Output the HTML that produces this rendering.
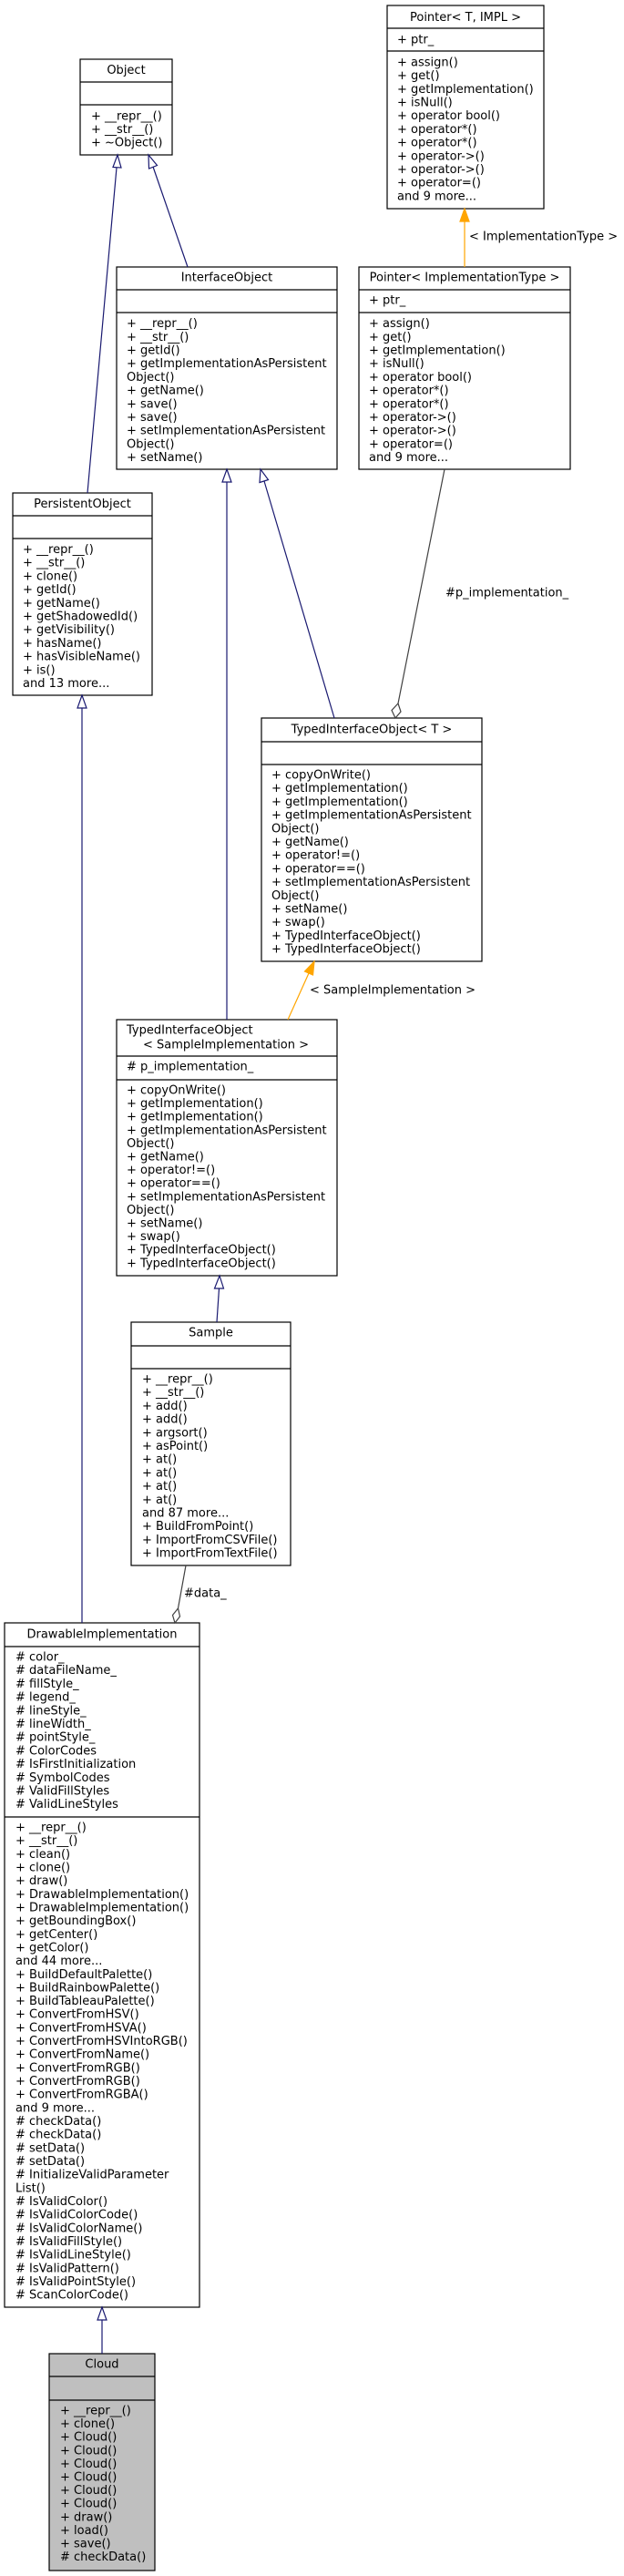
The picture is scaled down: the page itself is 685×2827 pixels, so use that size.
<!DOCTYPE html>
<html><head><meta charset="utf-8"><style>
html,body{margin:0;padding:0;background:#fff;}
svg{display:block;}
text{font-family:"DejaVu Sans","Liberation Sans",sans-serif;font-size:13px;fill:#000;}
</style></head><body>
<svg width="685" height="2827" viewBox="0 0 685 2827" xmlns="http://www.w3.org/2000/svg">
<g fill="#fff" stroke="#000" stroke-width="1.2">
<!-- Pointer<T,IMPL> -->
<rect x="425" y="6" width="172" height="223"/><line x1="425" y1="31" x2="597" y2="31"/><line x1="425" y1="56" x2="597" y2="56"/>
<!-- Object -->
<rect x="88" y="65" width="101" height="105"/><line x1="88" y1="90" x2="189" y2="90"/><line x1="88" y1="115" x2="189" y2="115"/>
<!-- InterfaceObject -->
<rect x="128" y="293" width="242" height="222"/><line x1="128" y1="318" x2="370" y2="318"/><line x1="128" y1="343" x2="370" y2="343"/>
<!-- Pointer<ImplementationType> -->
<rect x="394" y="293" width="232" height="222"/><line x1="394" y1="318" x2="626" y2="318"/><line x1="394" y1="343" x2="626" y2="343"/>
<!-- PersistentObject -->
<rect x="14" y="541" width="153" height="222"/><line x1="14" y1="566" x2="167" y2="566"/><line x1="14" y1="591" x2="167" y2="591"/>
<!-- TIO<T> -->
<rect x="287" y="788" width="242" height="267"/><line x1="287" y1="814" x2="529" y2="814"/><line x1="287" y1="839" x2="529" y2="839"/>
<!-- TIO<Sample> -->
<rect x="128" y="1119" width="242" height="281"/><line x1="128" y1="1159" x2="370" y2="1159"/><line x1="128" y1="1185" x2="370" y2="1185"/>
<!-- Sample -->
<rect x="144" y="1451" width="175" height="267"/><line x1="144" y1="1477" x2="319" y2="1477"/><line x1="144" y1="1502" x2="319" y2="1502"/>
<!-- DrawableImplementation -->
<rect x="5" y="1781" width="214" height="751"/><line x1="5" y1="1807" x2="219" y2="1807"/><line x1="5" y1="1994" x2="219" y2="1994"/>
<!-- Cloud -->
<rect x="54" y="2583" width="116" height="238" fill="#bfbfbf"/><line x1="54" y1="2608" x2="170" y2="2608"/><line x1="54" y1="2634" x2="170" y2="2634"/>
</g>

<!-- edges -->
<g fill="none" stroke="#191970" stroke-width="1.2">
<line x1="96" y1="541" x2="128" y2="184"/>
<line x1="206" y1="293" x2="168" y2="183"/>
<line x1="249" y1="1119" x2="249" y2="529"/>
<line x1="367" y1="788" x2="290" y2="528"/>
<line x1="90" y1="1781" x2="90" y2="777"/>
<line x1="238" y1="1451" x2="240.5" y2="1414"/>
<line x1="112" y1="2583" x2="112" y2="2546"/>
</g>
<g fill="#fff" stroke="#191970" stroke-width="1.2">
<polygon points="129,170 133,184 124,183.5"/>
<polygon points="163,170 172.5,181.5 163.5,185"/>
<polygon points="249,515 254,529 244,529"/>
<polygon points="286,515 294.5,526.5 285,529.5"/>
<polygon points="90,763 95,777 85,777"/>
<polygon points="241,1400 245.5,1414 235.5,1414"/>
<polygon points="112,2532 117,2546 107,2546"/>
</g>
<g stroke="#ffa500" stroke-width="1.2" fill="#ffa500">
<line x1="510" y1="293" x2="510" y2="243"/>
<polygon points="510,229 515,243 505,243"/>
<line x1="316" y1="1119" x2="339" y2="1068"/>
<polygon points="345,1055 343.5,1070 334.5,1066"/>
</g>
<g stroke="#404040" stroke-width="1.2" fill="#fff">
<line x1="488" y1="515" x2="437" y2="772"/>
<polygon points="434,788 430,779.5 437,772 440,781"/>
<line x1="204" y1="1718" x2="195.5" y2="1765"/>
<polygon points="192,1781 189.5,1772.5 195.5,1765 197.5,1774"/>
</g>

<!-- edge labels -->
<text x="515" y="263.5">&lt; ImplementationType &gt;</text>
<text x="489" y="654.5">#p_implementation_</text>
<text x="340" y="1090.5">&lt; SampleImplementation &gt;</text>
<text x="202" y="1752.5">#data_</text>

<!-- titles -->
<g text-anchor="middle">
<text x="511" y="23">Pointer&lt; T, IMPL &gt;</text>
<text x="138.5" y="81">Object</text>
<text x="249" y="308.5">InterfaceObject</text>
<text x="510" y="308.5">Pointer&lt; ImplementationType &gt;</text>
<text x="90.5" y="557">PersistentObject</text>
<text x="408" y="804.5">TypedInterfaceObject&lt; T &gt;</text>
<text x="231.5" y="1466.5">Sample</text>
<text x="112" y="1797.5">DrawableImplementation</text>
<text x="112" y="2598.5">Cloud</text>
</g>
<text x="139" y="1134.5">TypedInterfaceObject</text>
<text x="157" y="1150.5">&lt; SampleImplementation &gt;</text>

<!-- members -->
<text x="436" y="47.5">+ ptr_</text>
<text x="436" y="72.4"><tspan x="436">+ assign()</tspan><tspan x="436" dy="14.7">+ get()</tspan><tspan x="436" dy="14.7">+ getImplementation()</tspan><tspan x="436" dy="14.7">+ isNull()</tspan><tspan x="436" dy="14.7">+ operator bool()</tspan><tspan x="436" dy="14.7">+ operator*()</tspan><tspan x="436" dy="14.7">+ operator*()</tspan><tspan x="436" dy="14.7">+ operator-&gt;()</tspan><tspan x="436" dy="14.7">+ operator-&gt;()</tspan><tspan x="436" dy="14.7">+ operator=()</tspan><tspan x="436" dy="14.7">and 9 more...</tspan></text>

<text x="100" y="131.3"><tspan x="100">+ __repr__()</tspan><tspan x="100" dy="14.7">+ __str__()</tspan><tspan x="100" dy="14.7">+ ~Object()</tspan></text>

<text x="139" y="359.1"><tspan x="139">+ __repr__()</tspan><tspan x="139" dy="14.7">+ __str__()</tspan><tspan x="139" dy="14.7">+ getId()</tspan><tspan x="139" dy="14.7">+ getImplementationAsPersistent</tspan><tspan x="139" dy="14.7">Object()</tspan><tspan x="139" dy="14.7">+ getName()</tspan><tspan x="139" dy="14.7">+ save()</tspan><tspan x="139" dy="14.7">+ save()</tspan><tspan x="139" dy="14.7">+ setImplementationAsPersistent</tspan><tspan x="139" dy="14.7">Object()</tspan><tspan x="139" dy="14.7">+ setName()</tspan></text>

<text x="405" y="333.5">+ ptr_</text>
<text x="405" y="359.1"><tspan x="405">+ assign()</tspan><tspan x="405" dy="14.7">+ get()</tspan><tspan x="405" dy="14.7">+ getImplementation()</tspan><tspan x="405" dy="14.7">+ isNull()</tspan><tspan x="405" dy="14.7">+ operator bool()</tspan><tspan x="405" dy="14.7">+ operator*()</tspan><tspan x="405" dy="14.7">+ operator*()</tspan><tspan x="405" dy="14.7">+ operator-&gt;()</tspan><tspan x="405" dy="14.7">+ operator-&gt;()</tspan><tspan x="405" dy="14.7">+ operator=()</tspan><tspan x="405" dy="14.7">and 9 more...</tspan></text>

<text x="25" y="607"><tspan x="25">+ __repr__()</tspan><tspan x="25" dy="14.7">+ __str__()</tspan><tspan x="25" dy="14.7">+ clone()</tspan><tspan x="25" dy="14.7">+ getId()</tspan><tspan x="25" dy="14.7">+ getName()</tspan><tspan x="25" dy="14.7">+ getShadowedId()</tspan><tspan x="25" dy="14.7">+ getVisibility()</tspan><tspan x="25" dy="14.7">+ hasName()</tspan><tspan x="25" dy="14.7">+ hasVisibleName()</tspan><tspan x="25" dy="14.7">+ is()</tspan><tspan x="25" dy="14.7">and 13 more...</tspan></text>

<text x="298" y="854.5"><tspan x="298">+ copyOnWrite()</tspan><tspan x="298" dy="14.7">+ getImplementation()</tspan><tspan x="298" dy="14.7">+ getImplementation()</tspan><tspan x="298" dy="14.7">+ getImplementationAsPersistent</tspan><tspan x="298" dy="14.7">Object()</tspan><tspan x="298" dy="14.7">+ getName()</tspan><tspan x="298" dy="14.7">+ operator!=()</tspan><tspan x="298" dy="14.7">+ operator==()</tspan><tspan x="298" dy="14.7">+ setImplementationAsPersistent</tspan><tspan x="298" dy="14.7">Object()</tspan><tspan x="298" dy="14.7">+ setName()</tspan><tspan x="298" dy="14.7">+ swap()</tspan><tspan x="298" dy="14.7">+ TypedInterfaceObject()</tspan><tspan x="298" dy="14.7">+ TypedInterfaceObject()</tspan></text>

<text x="139" y="1174.5"># p_implementation_</text>
<text x="139" y="1200.5"><tspan x="139">+ copyOnWrite()</tspan><tspan x="139" dy="14.6">+ getImplementation()</tspan><tspan x="139" dy="14.6">+ getImplementation()</tspan><tspan x="139" dy="14.6">+ getImplementationAsPersistent</tspan><tspan x="139" dy="14.6">Object()</tspan><tspan x="139" dy="14.6">+ getName()</tspan><tspan x="139" dy="14.6">+ operator!=()</tspan><tspan x="139" dy="14.6">+ operator==()</tspan><tspan x="139" dy="14.6">+ setImplementationAsPersistent</tspan><tspan x="139" dy="14.6">Object()</tspan><tspan x="139" dy="14.6">+ setName()</tspan><tspan x="139" dy="14.6">+ swap()</tspan><tspan x="139" dy="14.6">+ TypedInterfaceObject()</tspan><tspan x="139" dy="14.6">+ TypedInterfaceObject()</tspan></text>

<text x="156" y="1517.5"><tspan x="156">+ __repr__()</tspan><tspan x="156" dy="14.7">+ __str__()</tspan><tspan x="156" dy="14.7">+ add()</tspan><tspan x="156" dy="14.7">+ add()</tspan><tspan x="156" dy="14.7">+ argsort()</tspan><tspan x="156" dy="14.7">+ asPoint()</tspan><tspan x="156" dy="14.7">+ at()</tspan><tspan x="156" dy="14.7">+ at()</tspan><tspan x="156" dy="14.7">+ at()</tspan><tspan x="156" dy="14.7">+ at()</tspan><tspan x="156" dy="14.7">and 87 more...</tspan><tspan x="156" dy="14.7">+ BuildFromPoint()</tspan><tspan x="156" dy="14.7">+ ImportFromCSVFile()</tspan><tspan x="156" dy="14.7">+ ImportFromTextFile()</tspan></text>

<text x="17" y="1822.5"><tspan x="17"># color_</tspan><tspan x="17" dy="14.7"># dataFileName_</tspan><tspan x="17" dy="14.7"># fillStyle_</tspan><tspan x="17" dy="14.7"># legend_</tspan><tspan x="17" dy="14.7"># lineStyle_</tspan><tspan x="17" dy="14.7"># lineWidth_</tspan><tspan x="17" dy="14.7"># pointStyle_</tspan><tspan x="17" dy="14.7"># ColorCodes</tspan><tspan x="17" dy="14.7"># IsFirstInitialization</tspan><tspan x="17" dy="14.7"># SymbolCodes</tspan><tspan x="17" dy="14.7"># ValidFillStyles</tspan><tspan x="17" dy="14.7"># ValidLineStyles</tspan></text>

<text x="17" y="2009.5"><tspan x="17">+ __repr__()</tspan><tspan x="17" dy="14.66">+ __str__()</tspan><tspan x="17" dy="14.66">+ clean()</tspan><tspan x="17" dy="14.66">+ clone()</tspan><tspan x="17" dy="14.66">+ draw()</tspan><tspan x="17" dy="14.66">+ DrawableImplementation()</tspan><tspan x="17" dy="14.66">+ DrawableImplementation()</tspan><tspan x="17" dy="14.66">+ getBoundingBox()</tspan><tspan x="17" dy="14.66">+ getCenter()</tspan><tspan x="17" dy="14.66">+ getColor()</tspan><tspan x="17" dy="14.66">and 44 more...</tspan><tspan x="17" dy="14.66">+ BuildDefaultPalette()</tspan><tspan x="17" dy="14.66">+ BuildRainbowPalette()</tspan><tspan x="17" dy="14.66">+ BuildTableauPalette()</tspan><tspan x="17" dy="14.66">+ ConvertFromHSV()</tspan><tspan x="17" dy="14.66">+ ConvertFromHSVA()</tspan><tspan x="17" dy="14.66">+ ConvertFromHSVIntoRGB()</tspan><tspan x="17" dy="14.66">+ ConvertFromName()</tspan><tspan x="17" dy="14.66">+ ConvertFromRGB()</tspan><tspan x="17" dy="14.66">+ ConvertFromRGB()</tspan><tspan x="17" dy="14.66">+ ConvertFromRGBA()</tspan><tspan x="17" dy="14.66">and 9 more...</tspan><tspan x="17" dy="14.66"># checkData()</tspan><tspan x="17" dy="14.66"># checkData()</tspan><tspan x="17" dy="14.66"># setData()</tspan><tspan x="17" dy="14.66"># setData()</tspan><tspan x="17" dy="14.66"># InitializeValidParameter</tspan><tspan x="17" dy="14.66">List()</tspan><tspan x="17" dy="14.66"># IsValidColor()</tspan><tspan x="17" dy="14.66"># IsValidColorCode()</tspan><tspan x="17" dy="14.66"># IsValidColorName()</tspan><tspan x="17" dy="14.66"># IsValidFillStyle()</tspan><tspan x="17" dy="14.66"># IsValidLineStyle()</tspan><tspan x="17" dy="14.66"># IsValidPattern()</tspan><tspan x="17" dy="14.66"># IsValidPointStyle()</tspan><tspan x="17" dy="14.66"># ScanColorCode()</tspan></text>

<text x="66" y="2649.5"><tspan x="66">+ __repr__()</tspan><tspan x="66" dy="14.6">+ clone()</tspan><tspan x="66" dy="14.6">+ Cloud()</tspan><tspan x="66" dy="14.6">+ Cloud()</tspan><tspan x="66" dy="14.6">+ Cloud()</tspan><tspan x="66" dy="14.6">+ Cloud()</tspan><tspan x="66" dy="14.6">+ Cloud()</tspan><tspan x="66" dy="14.6">+ Cloud()</tspan><tspan x="66" dy="14.6">+ draw()</tspan><tspan x="66" dy="14.6">+ load()</tspan><tspan x="66" dy="14.6">+ save()</tspan><tspan x="66" dy="14.6"># checkData()</tspan></text>
</svg>
</body></html>
